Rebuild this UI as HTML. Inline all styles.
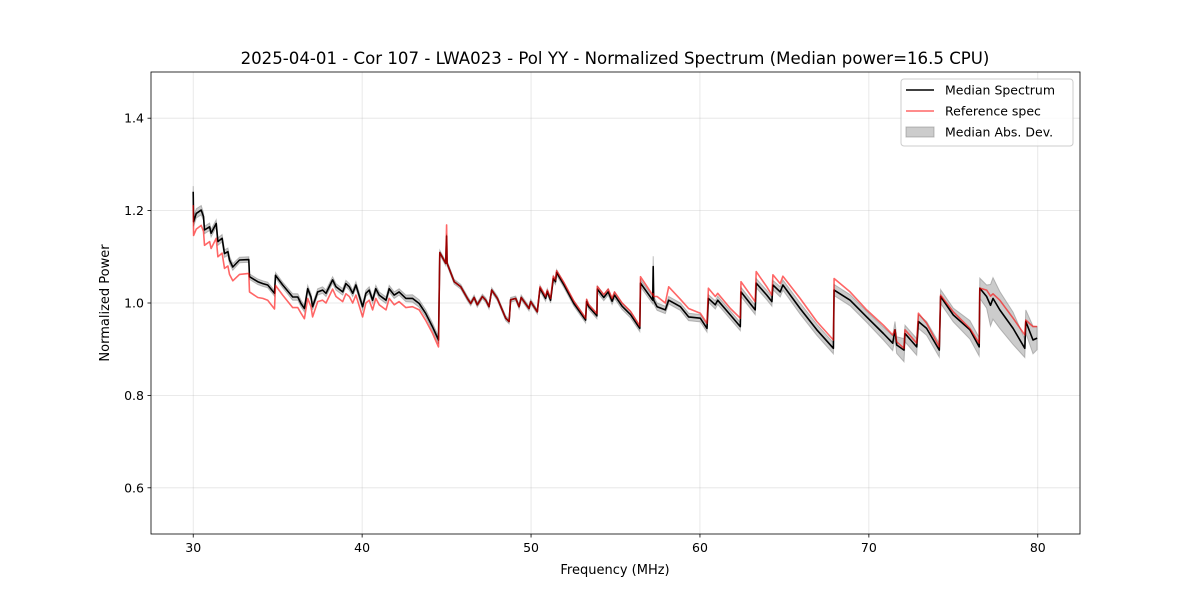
<!DOCTYPE html>
<html><head><meta charset="utf-8"><style>
body{margin:0;background:#fff;font-family:"Liberation Sans","DejaVu Sans",sans-serif;}
svg text{font-family:"DejaVu Sans","Liberation Sans",sans-serif;fill:#000;}
</style></head><body>
<svg id="chart" width="1200" height="600" xmlns="http://www.w3.org/2000/svg"></svg>
<script>
const freqs=[30.00,30.02,30.18,30.47,30.61,30.67,30.97,31.06,31.36,31.46,31.71,31.85,32.05,32.15,32.34,32.74,33.29,33.33,33.82,34.12,34.41,34.81,34.87,35.30,35.89,36.19,36.38,36.58,36.78,36.97,37.07,37.37,37.66,37.86,38.25,38.45,38.85,39.04,39.24,39.44,39.63,40.03,40.22,40.42,40.62,40.81,41.01,41.41,41.60,41.90,42.19,42.59,42.98,43.38,43.77,44.16,44.52,44.60,44.95,45.00,45.03,45.45,45.84,46.23,46.43,46.63,46.82,47.12,47.32,47.51,47.67,48.01,48.50,48.70,48.79,49.09,49.29,49.42,49.88,49.98,50.37,50.53,50.86,50.96,51.16,51.32,51.45,51.51,51.95,52.54,53.23,53.29,53.42,53.90,53.92,54.31,54.57,54.80,54.94,55.39,55.89,56.44,56.48,57.20,57.23,57.26,57.46,57.95,58.15,58.84,59.33,60.02,60.42,60.50,60.91,61.05,61.80,62.39,62.43,63.27,63.33,63.96,64.26,64.32,64.75,64.91,65.93,66.92,67.90,67.94,68.89,69.87,70.86,71.41,71.55,71.65,72.08,72.14,72.83,72.93,73.42,74.17,74.25,75.00,75.98,76.53,76.57,76.97,77.20,77.35,77.75,78.54,79.23,79.29,79.72,79.96];
const medianVals=[1.241,1.176,1.194,1.201,1.187,1.158,1.165,1.151,1.172,1.133,1.140,1.107,1.111,1.093,1.078,1.093,1.094,1.057,1.046,1.042,1.039,1.021,1.060,1.039,1.013,1.013,0.999,0.988,1.031,1.013,0.992,1.024,1.028,1.021,1.050,1.035,1.024,1.042,1.035,1.021,1.039,0.992,1.021,1.028,1.006,1.031,1.017,1.006,1.031,1.017,1.024,1.010,1.010,0.999,0.977,0.949,0.920,1.109,1.086,1.145,1.086,1.046,1.035,1.010,0.999,1.012,0.996,1.014,1.006,0.992,1.028,1.010,0.967,0.960,1.007,1.010,0.992,1.012,0.988,1.003,0.981,1.032,1.010,1.025,1.006,1.053,1.046,1.066,1.039,0.999,0.963,1.003,0.992,0.972,1.030,1.012,1.024,1.004,1.017,0.993,0.975,0.945,1.043,1.006,1.079,1.006,0.992,0.985,1.006,0.992,0.970,0.967,0.945,1.010,0.996,1.006,0.974,0.949,1.024,0.985,1.043,1.017,1.003,1.039,1.024,1.039,0.988,0.942,0.902,1.028,1.006,0.970,0.934,0.913,0.942,0.909,0.898,0.934,0.905,0.960,0.945,0.898,1.014,0.974,0.942,0.905,1.032,1.014,0.995,1.010,0.985,0.945,0.902,0.960,0.920,0.924];
const refVals=[1.212,1.146,1.160,1.168,1.155,1.125,1.133,1.118,1.140,1.100,1.108,1.075,1.080,1.062,1.048,1.062,1.064,1.024,1.012,1.010,1.006,0.987,1.038,1.017,0.990,0.990,0.978,0.966,1.010,0.992,0.970,1.003,1.006,1.000,1.030,1.014,1.003,1.020,1.014,1.000,1.017,0.970,1.000,1.006,0.985,1.010,0.996,0.985,1.010,0.996,1.003,0.990,0.992,0.985,0.962,0.935,0.905,1.109,1.086,1.169,1.086,1.046,1.035,1.010,0.999,1.012,0.996,1.014,1.006,0.992,1.028,1.010,0.967,0.960,1.007,1.010,0.992,1.012,0.988,1.003,0.981,1.035,1.014,1.028,1.010,1.058,1.050,1.070,1.044,1.004,0.967,1.008,0.996,0.977,1.036,1.018,1.030,1.010,1.024,1.000,0.982,0.950,1.057,1.017,1.020,1.014,1.014,1.000,1.035,1.008,0.988,0.978,0.956,1.032,1.014,1.021,0.988,0.967,1.046,1.003,1.068,1.035,1.017,1.061,1.042,1.058,1.010,0.960,0.920,1.053,1.024,0.985,0.952,0.931,0.942,0.916,0.902,0.942,0.913,0.978,0.956,0.905,1.017,0.981,0.945,0.913,1.032,1.028,1.015,1.020,1.006,0.967,0.931,0.963,0.949,0.949];
const madVals=[0.012,0.010,0.010,0.010,0.008,0.008,0.008,0.008,0.008,0.008,0.008,0.008,0.008,0.008,0.007,0.006,0.006,0.006,0.006,0.006,0.006,0.006,0.006,0.006,0.007,0.007,0.007,0.007,0.007,0.007,0.007,0.007,0.007,0.007,0.007,0.007,0.007,0.007,0.007,0.007,0.007,0.007,0.007,0.007,0.007,0.007,0.007,0.007,0.007,0.007,0.007,0.007,0.008,0.008,0.008,0.008,0.008,0.005,0.005,0.005,0.005,0.005,0.005,0.005,0.005,0.005,0.005,0.005,0.005,0.005,0.005,0.005,0.005,0.005,0.005,0.005,0.005,0.005,0.005,0.005,0.005,0.006,0.006,0.006,0.006,0.006,0.006,0.006,0.006,0.006,0.006,0.006,0.006,0.006,0.007,0.007,0.007,0.007,0.007,0.007,0.007,0.007,0.008,0.008,0.022,0.008,0.008,0.008,0.008,0.008,0.008,0.008,0.008,0.008,0.009,0.009,0.009,0.009,0.010,0.010,0.010,0.010,0.010,0.010,0.011,0.011,0.012,0.012,0.012,0.012,0.012,0.012,0.014,0.016,0.018,0.018,0.025,0.018,0.018,0.015,0.015,0.015,0.015,0.015,0.020,0.020,0.022,0.025,0.045,0.045,0.040,0.035,0.020,0.025,0.030,0.025,0.020,0.020];
const xTicks=[30,40,50,60,70,80];
const yTicks=[0.6,0.8,1.0,1.2,1.4];
const legendLabels=["Median Spectrum","Reference spec","Median Abs. Dev."];

const L=151,R=1080,T=72,B=534,xmin=27.5,xmax=82.5,ymin=0.5,ymax=1.5;
const X=f=>L+(f-xmin)/(xmax-xmin)*(R-L);
const Y=v=>B-(v-ymin)/(ymax-ymin)*(B-T);
const svg=document.getElementById('chart');
const NS='http://www.w3.org/2000/svg';
function mk(tag,attrs,parent){const e=document.createElementNS(NS,tag);for(const k in attrs)e.setAttribute(k,attrs[k]);(parent||svg).appendChild(e);return e;}

xTicks.forEach(t=>{
  const g=mk('line',{x1:X(t),x2:X(t),y1:T,y2:B,stroke:'#b0b0b0','stroke-opacity':0.35,'stroke-width':0.8});
  
  
  mk('line',{x1:X(t),x2:X(t),y1:B,y2:B+3.5,stroke:'#000','stroke-width':0.8});
  const tx=mk('text',{x:X(t),y:B+18,'text-anchor':'middle','font-size':12.5});
  tx.textContent=t;
  
  
});
yTicks.forEach(t=>{
  const g=mk('line',{x1:L,x2:R,y1:Y(t),y2:Y(t),stroke:'#b0b0b0','stroke-opacity':0.35,'stroke-width':0.8});
  
  
  mk('line',{x1:L-3.5,x2:L,y1:Y(t),y2:Y(t),stroke:'#000','stroke-width':0.8});
  const tx=mk('text',{x:L-7,y:Y(t)+4.5,'text-anchor':'end','font-size':12.5});
  tx.textContent=t.toFixed(1);
  
  
});

let up=freqs.map((f,i)=>X(f).toFixed(1)+','+Y(medianVals[i]+madVals[i]).toFixed(1));
let dn=freqs.map((f,i)=>X(f).toFixed(1)+','+Y(medianVals[i]-madVals[i]).toFixed(1)).reverse();
const band=mk('polygon',{points:up.concat(dn).join(' '),fill:'#808080','fill-opacity':0.4,stroke:'#808080','stroke-opacity':0.5,'stroke-width':1});



const medLine=mk('polyline',{points:freqs.map((f,i)=>X(f).toFixed(1)+','+Y(medianVals[i]).toFixed(1)).join(' '),fill:'none',stroke:'#000','stroke-width':1.6,'stroke-linejoin':'round'});


const refLine=mk('polyline',{points:freqs.map((f,i)=>X(f).toFixed(1)+','+Y(refVals[i]).toFixed(1)).join(' '),fill:'none',stroke:'#ff0000','stroke-opacity':0.6,'stroke-width':1.6,'stroke-linejoin':'round'});



const frame=mk('rect',{x:L,y:T,width:R-L,height:B-T,fill:'none',stroke:'#000','stroke-width':0.8});



const title=mk('text',{x:615,y:64,'text-anchor':'middle','font-size':16.6});
title.textContent='2025-04-01 - Cor 107 - LWA023 - Pol YY - Normalized Spectrum (Median power=16.5 CPU)';


const xl=mk('text',{x:615,y:574,'text-anchor':'middle','font-size':13});
xl.textContent='Frequency (MHz)';


const yl=mk('text',{x:0,y:0,'text-anchor':'middle','font-size':13,transform:'translate(109,303) rotate(-90)'});
yl.textContent='Normalized Power';



const lg=mk('g',{});


mk('rect',{x:901,y:79,width:172,height:67,rx:3,fill:'#fff','fill-opacity':0.8,stroke:'#ccc','stroke-width':1},lg);
legendLabels.forEach((lab,i)=>{
  const yy=90+i*21;
  const entry=mk('g',{},lg);
  
  
  if(i===0) mk('line',{x1:906,x2:934,y1:yy,y2:yy,stroke:'#000','stroke-width':1.5},entry);
  if(i===1) mk('line',{x1:906,x2:934,y1:yy,y2:yy,stroke:'#ff0000','stroke-opacity':0.6,'stroke-width':1.5},entry);
  if(i===2) mk('rect',{x:906,y:yy-5,width:28,height:10,fill:'#808080','fill-opacity':0.4,stroke:'#808080','stroke-opacity':0.5},entry);
  const t=mk('text',{x:945,y:yy+4.5,'font-size':12.5},entry);
  t.textContent=lab;
});
</script>
</body></html>
